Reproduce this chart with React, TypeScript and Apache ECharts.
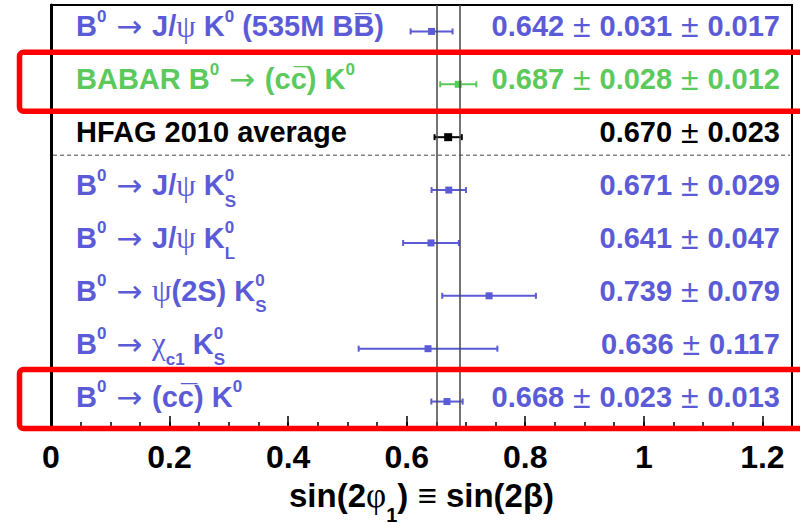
import React, { useEffect, useRef } from "react";
import * as echarts from "echarts";

// ---- data ----
const categories = [
  "B0 → J/ψ K0 (535M BB̄)",
  "BABAR B0 → (cc̄) K0",
  "HFAG 2010 average",
  "B0 → J/ψ KS0",
  "B0 → J/ψ KL0",
  "B0 → ψ(2S) KS0",
  "B0 → χc1 KS0",
  "B0 → (cc̄) K0",
];
const labelMarkup = [
  "{m|B}{sup|0}{ar| → }{m|J/}{g|ψ}{m| K}{sup|0}{m| (535M BB\u0305)}",
  "{m|BABAR B}{sup|0}{ar| → }{m|(cc\u0305) K}{sup|0}",
  "{m|HFAG 2010 average}",
  "{m|B}{sup|0}{ar| → }{m|J/}{g|ψ}{m| K}{supz|0}{sub|S}",
  "{m|B}{sup|0}{ar| → }{m|J/}{g|ψ}{m| K}{supz|0}{sub|L}",
  "{m|B}{sup|0}{ar| → }{g|ψ}{m|(2S) K}{supz|0}{sub|S}",
  "{m|B}{sup|0}{ar| → }{g|χ}{sub|c1}{m| K}{supz|0}{sub|S}",
  "{m|B}{sup|0}{ar| → }{m|(cc\u0305) K}{sup|0}",
];
const centralValues = [0.642, 0.687, 0.67, 0.671, 0.641, 0.739, 0.636, 0.668];
const statErrors = [0.031, 0.028, 0.023, 0.029, 0.047, 0.079, 0.117, 0.023];
const systErrors: (number | null)[] = [0.017, 0.012, null, null, null, null, null, 0.013];
const rowGroups = ["blue", "green", "black", "blue", "blue", "blue", "blue", "blue"];
const averageIndex = 2;
const xMin = 0;
const xMax = 1.25;
const majorStep = 0.2;
const minorStep = 0.05;
const highlightedRows = [1, 7];

// ---- styles ----
const palette: Record<string, string> = { blue: "#5b5bd8", green: "#5cc95c", black: "#000000" };
const SANS = "Liberation Sans";
const SERIF = "Liberation Serif";
const FS = 29;
const LH = 42;

function richFor(color: string) {
  return {
    m: { fontFamily: SANS, fontWeight: "bold", fontSize: FS, lineHeight: LH, color },
    n: { fontFamily: SANS, fontWeight: "bold", fontSize: FS, lineHeight: LH, color },
    pm: { fontFamily: SANS, fontWeight: "normal", fontSize: 32, lineHeight: LH, color },
    ar: { fontFamily: "DejaVu Sans", fontWeight: "normal", fontSize: 31, lineHeight: LH, color },
    g: { fontFamily: SERIF, fontWeight: "normal", fontSize: 31, lineHeight: LH, color },
    sup: { fontFamily: SANS, fontWeight: "bold", fontSize: 17, height: 22, lineHeight: 22, verticalAlign: "top", color },
    supz: { fontFamily: SANS, fontWeight: "bold", fontSize: 17, height: 22, lineHeight: 22, verticalAlign: "top", width: 0, color },
    sub: { fontFamily: SANS, fontWeight: "bold", fontSize: 17, height: 10, lineHeight: 10, verticalAlign: "bottom", color },
  };
}
const rich: Record<string, any> = {};
Object.keys(palette).forEach((key) => {
  const r = richFor(palette[key]);
  Object.keys(r).forEach((s) => {
    rich[`${s}_${key}`] = (r as any)[s];
  });
});
const colorize = (markup: string, key: string) =>
  markup.replace(/\{(\w+)\|/g, (_m, s) => `{${s}_${key}|`);

const totalError = (i: number) => {
  const s = statErrors[i];
  const y = systErrors[i];
  return y == null ? s : Math.sqrt(s * s + y * y);
};
const resultMarkup = (i: number) => {
  let t = `{n|${centralValues[i].toFixed(3)}}{pm| ± }{n|${statErrors[i].toFixed(3)}}`;
  if (systErrors[i] != null) t += `{pm| ± }{n|${(systErrors[i] as number).toFixed(3)}}`;
  return t;
};

export default function App() {
  const ref = useRef<HTMLDivElement>(null);
  useEffect(() => {
    document.body.style.margin = "0";
    const chart = echarts.init(ref.current!, null, { renderer: "svg" });
    const errData = centralValues.map((v, i) => [v, i, v - totalError(i), v + totalError(i)]);
    const avg = centralValues[averageIndex];
    const avgErr = statErrors[averageIndex];

    chart.setOption({
      animation: false,
      backgroundColor: "#ffffff",
      grid: {
        left: 51,
        right: 8,
        top: 5,
        bottom: 95,
        outerBoundsMode: "none",
        containLabel: false,
        show: true,
        borderColor: "#000",
        borderWidth: 2,
      },
      xAxis: [
        {
          type: "value",
          position: "bottom",
          min: xMin,
          max: xMax,
          interval: majorStep,
          axisLine: { show: true, lineStyle: { color: "#000", width: 2 } },
          axisTick: { show: true, inside: true, length: 12, lineStyle: { color: "#000", width: 1.5 } },
          axisLabel: {
            show: true,
            showMaxLabel: false,
            margin: 13,
            color: "#000",
            fontFamily: SANS,
            fontWeight: "bold",
            fontSize: 32,
          },
          splitLine: { show: false },
          name: "{t|sin(2}{g|φ}{s|1}{t|)}{e| ≡ }{t|sin(2}{b|β}{t|)}",
          nameLocation: "middle",
          nameGap: 37,
          nameTextStyle: {
            rich: {
              t: { fontFamily: SANS, fontWeight: "bold", fontSize: 33, lineHeight: 56, color: "#000" },
              e: { fontFamily: SANS, fontWeight: "normal", fontSize: 33, lineHeight: 56, color: "#000" },
              g: { fontFamily: SERIF, fontWeight: "normal", fontSize: 35, lineHeight: 56, color: "#000" },
              b: { fontFamily: SANS, fontWeight: "bold", fontSize: 33, lineHeight: 56, color: "#000" },
              s: { fontFamily: SANS, fontWeight: "bold", fontSize: 20, height: 17, lineHeight: 17, verticalAlign: "bottom", color: "#000" },
            },
          },
        },
        {
          type: "value",
          position: "bottom",
          min: xMin,
          max: xMax,
          interval: minorStep,
          axisLine: { show: false },
          axisTick: { show: true, inside: true, length: 6, lineStyle: { color: "#000", width: 1.5 } },
          axisLabel: { show: false },
          splitLine: { show: false },
        },
      ],
      yAxis: [
        {
          type: "category",
          position: "left",
          inverse: true,
          data: categories,
          axisLine: { show: true, lineStyle: { color: "#000", width: 3 } },
          axisTick: { show: false },
          splitLine: { show: false },
          axisLabel: {
            interval: 0,
            inside: true,
            margin: 25,
            padding: [0, 0, 10, 0],
            formatter: (_v: string, i: number) => colorize(labelMarkup[i], rowGroups[i]),
            rich,
          },
        },
        {
          type: "category",
          position: "right",
          inverse: true,
          data: categories,
          axisLine: { show: false },
          axisTick: { show: false },
          splitLine: { show: false },
          axisLabel: {
            interval: 0,
            inside: true,
            margin: 12,
            padding: [0, 0, 10, 0],
            formatter: (_v: string, i: number) => colorize(resultMarkup(i), rowGroups[i]),
            rich,
          },
        },
      ],
      series: [
        {
          type: "custom",
          name: "separator",
          xAxisIndex: 0,
          yAxisIndex: 0,
          silent: true,
          data: [[xMin, averageIndex]],
          encode: { x: 0, y: 1 },
          renderItem: (params: any, api: any) => {
            const cs = params.coordSys;
            const band = api.size([0, 1])[1];
            const p = api.coord([api.value(0), api.value(1)]);
            const y = p[1] + band * 0.34;
            return {
              type: "line",
              shape: { x1: cs.x + 2, y1: y, x2: cs.x + cs.width - 2, y2: y },
              style: { stroke: "#444", lineWidth: 1, lineDash: [4, 3] },
            };
          },
        },
        {
          type: "custom",
          name: "measurements",
          xAxisIndex: 0,
          yAxisIndex: 0,
          data: errData,
          encode: { x: 0, y: 1 },
          renderItem: (params: any, api: any) => {
            const i = params.dataIndex;
            const row = api.value(1);
            const c = api.coord([api.value(0), row]);
            const lo = api.coord([api.value(2), row]);
            const hi = api.coord([api.value(3), row]);
            const color = palette[rowGroups[i]];
            const size = i === averageIndex ? 8 : 7;
            const ls = { stroke: color, lineWidth: 2 };
            return {
              type: "group",
              children: [
                { type: "line", shape: { x1: lo[0], y1: c[1], x2: hi[0], y2: c[1] }, style: ls },
                { type: "line", shape: { x1: lo[0], y1: c[1] - 3, x2: lo[0], y2: c[1] + 3 }, style: ls },
                { type: "line", shape: { x1: hi[0], y1: c[1] - 3, x2: hi[0], y2: c[1] + 3 }, style: ls },
                { type: "rect", shape: { x: c[0] - size / 2, y: c[1] - size / 2, width: size, height: size }, style: { fill: color } },
              ],
            };
          },
          markLine: {
            silent: true,
            symbol: ["none", "none"],
            label: { show: false },
            lineStyle: { color: "#444", width: 1.5, type: "solid" },
            data: [{ xAxis: avg - avgErr }, { xAxis: avg + avgErr }],
          },
        },
      ],
    });

    const boxes = highlightedRows.map((r) => {
      const yc = chart.convertToPixel({ yAxisIndex: 0 }, r) as number;
      return {
        type: "rect",
        z: 100,
        shape: { x: 19.5, y: yc - 32, width: 820, height: 59, r: 4 },
        style: { fill: "none", stroke: "#ff0000", lineWidth: 5.5 },
        silent: true,
      };
    });
    chart.setOption({ graphic: boxes });

    return () => chart.dispose();
  }, []);
  return <div ref={ref} style={{ position: "fixed", left: 0, top: 0, width: 800, height: 523 }} />;
}
